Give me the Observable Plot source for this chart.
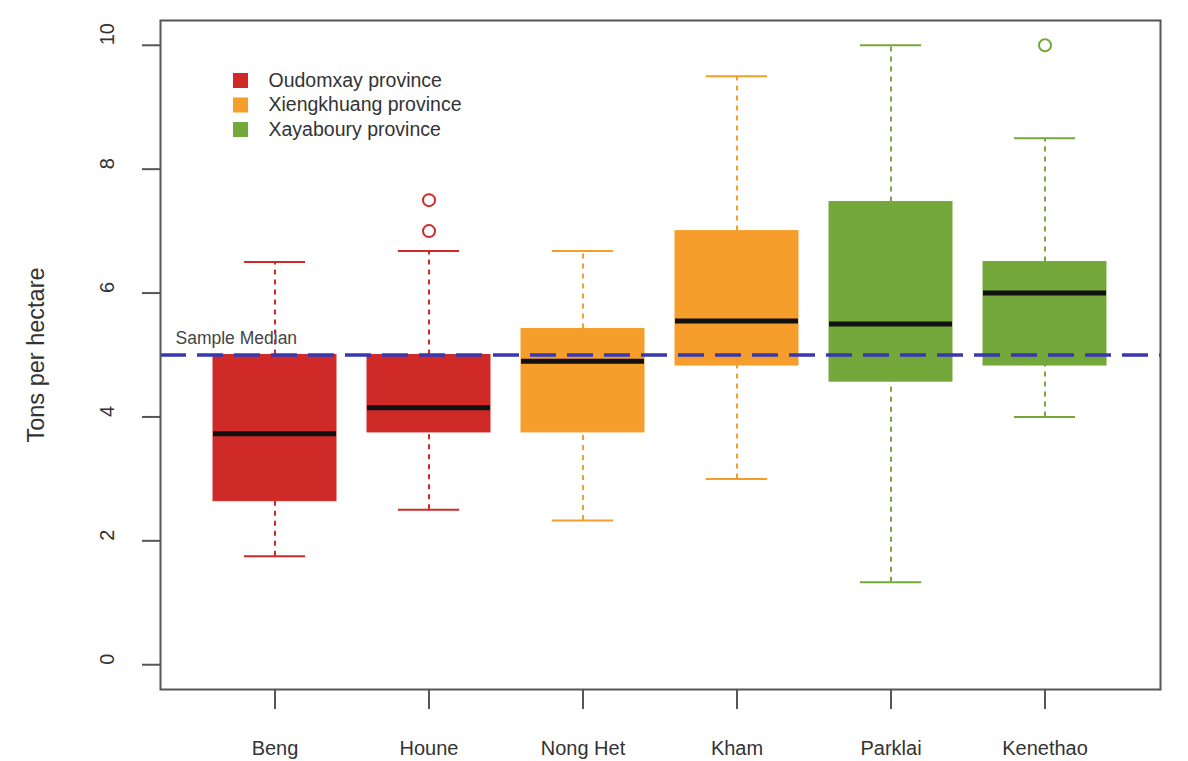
<!DOCTYPE html>
<html>
<head>
<meta charset="utf-8">
<script src="https://cdn.jsdelivr.net/npm/d3@7"></script>
<script src="https://cdn.jsdelivr.net/npm/@observablehq/plot@0.6"></script>
<style>
  html, body { margin: 0; padding: 0; background: #fff; }
  #chart svg { display: block; }
</style>
</head>
<body>
<div id="chart"></div>
<script>
// ---- data ----
const sites = ["Beng", "Houne", "Nong Het", "Kham", "Parklai", "Kenethao"];
const siteProvince = ["Oudomxay province", "Oudomxay province", "Xiengkhuang province", "Xiengkhuang province", "Xayaboury province", "Xayaboury province"];
const lowerWhisker = [1.75, 2.5, 2.33, 3.0, 1.33, 4.0];
const q1 = [2.64, 3.75, 3.75, 4.83, 4.57, 4.83];
const median = [3.73, 4.15, 4.9, 5.55, 5.5, 6.0];
const q3 = [5.0, 5.0, 5.42, 7.0, 7.47, 6.5];
const upperWhisker = [6.5, 6.68, 6.68, 9.5, 10.0, 8.5];
const outlierSites = ["Houne", "Houne", "Kenethao"];
const outlierValues = [7.5, 7.0, 10.0];
const provinces = ["Oudomxay province", "Xiengkhuang province", "Xayaboury province"];
const provinceColors = ["#cf2a27", "#f59e2c", "#74a83a"];
const sampleMedian = 5;
const yTicks = [0, 2, 4, 6, 8, 10];

// ---- build tables ----
const colorOf = p => provinceColors[provinces.indexOf(p)];
const boxes = sites.map((s, i) => ({
  site: s, province: siteProvince[i], lo: lowerWhisker[i], q1: q1[i],
  med: median[i], q3: q3[i], hi: upperWhisker[i]
}));
const outliers = outlierSites.map((s, i) => ({
  site: s, value: outlierValues[i], province: siteProvince[sites.indexOf(s)]
}));

const font = "'Liberation Sans', Arial, Helvetica, sans-serif";
const textColor = "#333";

const legendMarks = provinces.flatMap((p, i) => [
  Plot.dot([p], {frameAnchor: "top-left", dx: 80, dy: 60 + i * 24.5, symbol: "square", r: 8.5, fill: provinceColors[i], stroke: "none"}),
  Plot.text([p], {frameAnchor: "top-left", dx: 108, dy: 60 + i * 24.5, text: d => d, textAnchor: "start", lineAnchor: "middle", fontSize: 19.5, fill: textColor})
]);

const chart = Plot.plot({
  width: 1188,
  height: 761,
  marginLeft: 160,
  marginRight: 28,
  marginTop: 20,
  marginBottom: 72,
  style: {fontFamily: font, background: "#fff", color: textColor},
  x: {type: "band", domain: sites, paddingInner: 0.2, paddingOuter: 0.34},
  y: {domain: [-0.4, 10.4]},
  marks: [
    // whiskers (dashed)
    Plot.ruleX(boxes, {x: "site", y1: "q3", y2: "hi", stroke: d => colorOf(d.province), strokeWidth: 2, strokeDasharray: "5,5"}),
    Plot.ruleX(boxes, {x: "site", y1: "lo", y2: "q1", stroke: d => colorOf(d.province), strokeWidth: 2, strokeDasharray: "5,5"}),
    // whisker caps
    Plot.tickY(boxes, {x: "site", y: "hi", stroke: d => colorOf(d.province), strokeWidth: 2, insetLeft: 30.9, insetRight: 30.9}),
    Plot.tickY(boxes, {x: "site", y: "lo", stroke: d => colorOf(d.province), strokeWidth: 2, insetLeft: 30.9, insetRight: 30.9}),
    // boxes
    Plot.rectY(boxes, {x: "site", y1: "q1", y2: "q3", fill: d => colorOf(d.province), stroke: d => colorOf(d.province), strokeWidth: 1}),
    // medians
    Plot.tickY(boxes, {x: "site", y: "med", stroke: "#111", strokeWidth: 5}),
    // outliers
    Plot.dot(outliers, {x: "site", y: "value", r: 6, fill: "none", stroke: d => colorOf(d.province), strokeWidth: 2}),
    // sample median line
    Plot.ruleY([sampleMedian], {stroke: "#3838b2", strokeWidth: 3.5, strokeDasharray: "26,11"}),
    Plot.text([sampleMedian], {y: d => d, frameAnchor: "left", dx: 15, dy: -17, text: () => "Sample Median", textAnchor: "start", fontSize: 17.5, fill: "#444"}),
    // legend
    ...legendMarks,
    // axes
    Plot.axisX({tickSize: 20, tickPadding: 31, fontSize: 20, label: null, stroke: "#555", strokeWidth: 2, fill: textColor}),
    Plot.axisY(yTicks, {tickSize: 18, text: null, label: null, stroke: "#555", strokeWidth: 2}),
    Plot.text(yTicks, {y: d => d, frameAnchor: "left", dx: -53, rotate: -90, text: d => String(d), fontSize: 20, fill: textColor}),
    Plot.text(["Tons per hectare"], {frameAnchor: "left", dx: -124, rotate: -90, text: d => d, textAnchor: "middle", fontSize: 23.5, fill: textColor}),
    // frame
    Plot.frame({stroke: "#555", strokeWidth: 2})
  ]
});

document.getElementById("chart").appendChild(chart);
</script>
</body>
</html>
